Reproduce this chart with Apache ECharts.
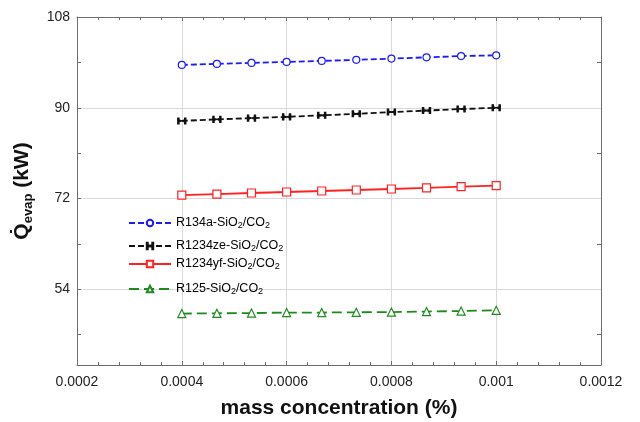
<!DOCTYPE html>
<html><head><meta charset="utf-8">
<script src="https://cdn.jsdelivr.net/npm/echarts@6/dist/echarts.min.js"></script>
<style>html,body{margin:0;padding:0;background:#fff}#c{width:640px;height:422px}</style>
</head><body><div id="c"></div>
<script>
// ---- data ----
const concentration = [0.0004, 0.000467, 0.000533, 0.0006, 0.000667, 0.000733, 0.0008, 0.000867, 0.000933, 0.001];
const seriesNames = ['R134a-SiO2/CO2', 'R1234ze-SiO2/CO2', 'R1234yf-SiO2/CO2', 'R125-SiO2/CO2'];
const r134a   = [98.5, 98.7, 98.9, 99.1, 99.3, 99.5, 99.75, 100.0, 100.25, 100.4];
const r1234ze = [87.4, 87.7, 87.95, 88.2, 88.5, 88.8, 89.15, 89.45, 89.75, 90.0];
const r1234yf = [72.7, 72.9, 73.1, 73.3, 73.5, 73.7, 73.9, 74.1, 74.35, 74.55];
const r125    = [49.2, 49.25, 49.3, 49.4, 49.4, 49.45, 49.5, 49.6, 49.7, 49.85];
const xMin = 0.0002, xMax = 0.0012, xStep = 0.0002;
const yMin = 39, yMax = 108;
const yLabelValues = [54, 72, 90, 108];
const yMinorValues = [45, 63, 81, 99];
const xTitle = 'mass concentration (%)';
const yTitle = 'Q\u0307{sub|evap} (kW)';

// ---- chart ----
const FONT = '"Liberation Sans", Arial, "DejaVu Sans", sans-serif';
const AX = '#6e6e6e';
const chart = echarts.init(document.getElementById('c'), null, {renderer: 'canvas'});
const gridRect = {left: 77, right: 39, top: 17, bottom: 57, containLabel: false, outerBoundsMode: 'none'};
const bowtie = 'path://M0,0L1.4,0L1.4,3.2L5,5L8.6,3.2L8.6,0L10,0L10,10L8.6,10L8.6,6.8L5,5L1.4,6.8L1.4,10L0,10Z';
const styles = [
  {color: '#1a1aff', symbol: 'circle', size: 7, dash: [6, 3], fill: '#fff'},
  {color: '#111111', symbol: bowtie, size: [8, 6], dash: [6, 3], fill: '#111'},
  {color: '#ff2222', symbol: 'rect', size: 8, dash: 'solid', fill: '#fff'},
  {color: '#1e8a1e', symbol: 'triangle', size: 8, dash: [10, 5], fill: '#fff'}
];
const values = [r134a, r1234ze, r1234yf, r125];
const series = seriesNames.map((n, i) => ({
  type: 'line', name: n, xAxisIndex: 0, yAxisIndex: 0,
  data: concentration.map((x, k) => [x, values[i][k]]),
  symbol: styles[i].symbol, symbolSize: styles[i].size, showSymbol: true,
  lineStyle: {color: styles[i].color, width: 1.8, type: styles[i].dash},
  itemStyle: {color: styles[i].fill, borderColor: styles[i].color, borderWidth: 1.2},
  emphasis: {disabled: true}, animation: false, z: 3
}));
const legendTops = [216, 239, 257, 282];
const fmt = n => n.replace(/O2/g, 'O{sub|2}');
const legendText = {fontFamily: FONT, fontSize: 12.5, color: '#000', lineHeight: 14,
  rich: {sub: {fontFamily: FONT, fontSize: 9, color: '#000', lineHeight: 9, verticalAlign: 'bottom'}}};
const legends = seriesNames.map((n, i) => ({
  data: [n], left: 128, top: legendTops[i], orient: 'horizontal', padding: 0,
  itemWidth: 42, itemHeight: 8, itemGap: 0, selectedMode: false,
  formatter: fmt, textStyle: legendText
}));
const minorTick = {show: true, splitNumber: 5, length: 3, lineStyle: {color: AX}};
chart.setOption({
  animation: false,
  backgroundColor: '#fff',
  legend: legends,
  grid: [Object.assign({}, gridRect), Object.assign({}, gridRect)],
  xAxis: [
    {type: 'value', gridIndex: 0, position: 'bottom', min: xMin, max: xMax, interval: xStep,
     name: xTitle, nameLocation: 'middle', nameGap: 33,
     nameTextStyle: {fontFamily: FONT, fontSize: 21, fontWeight: 'bold', color: '#111'},
     axisLine: {show: true, lineStyle: {color: AX, width: 1}},
     axisTick: {show: true, inside: true, length: 4, lineStyle: {color: AX}},
     minorTick: minorTick,
     axisLabel: {fontFamily: FONT, fontSize: 14, color: '#222', margin: 10},
     splitLine: {show: true, lineStyle: {color: '#d9d9d9', width: 1}}},
    {type: 'value', gridIndex: 0, position: 'top', min: xMin, max: xMax, interval: xStep,
     axisLine: {show: true, lineStyle: {color: AX, width: 1}},
     axisTick: {show: true, inside: true, length: 4, lineStyle: {color: AX}},
     minorTick: minorTick, axisLabel: {show: false}, splitLine: {show: false}},
    {type: 'value', gridIndex: 1, show: false, min: xMin, max: xMax}
  ],
  yAxis: [
    {type: 'value', gridIndex: 0, position: 'left', min: yMin, max: yMax,
     name: yTitle, nameLocation: 'middle', nameGap: 42, nameRotate: 90,
     nameTextStyle: {fontFamily: FONT, fontSize: 21, fontWeight: 'bold', color: '#111', lineHeight: 25,
       rich: {sub: {fontFamily: FONT, fontSize: 13, fontWeight: 'bold', color: '#111', lineHeight: 13, verticalAlign: 'bottom'}}},
     axisLine: {show: true, lineStyle: {color: AX, width: 1}},
     axisTick: {show: true, inside: true, length: 4, customValues: yLabelValues, lineStyle: {color: AX}},
     axisLabel: {fontFamily: FONT, fontSize: 14, color: '#222', margin: 7, customValues: yLabelValues},
     splitLine: {show: true, lineStyle: {color: '#d9d9d9', width: 1}}},
    {type: 'value', gridIndex: 0, position: 'right', min: yMin, max: yMax,
     axisLine: {show: true, lineStyle: {color: AX, width: 1}},
     axisTick: {show: true, inside: true, length: 4, customValues: yMinorValues, lineStyle: {color: AX}},
     axisLabel: {show: false}, splitLine: {show: false}},
    {type: 'value', gridIndex: 1, position: 'left', min: yMin, max: yMax,
     axisLine: {show: false},
     axisTick: {show: true, inside: true, length: 4, customValues: yMinorValues, lineStyle: {color: AX}},
     axisLabel: {show: false}, splitLine: {show: false}}
  ],
  series: series
});
</script></body></html>
